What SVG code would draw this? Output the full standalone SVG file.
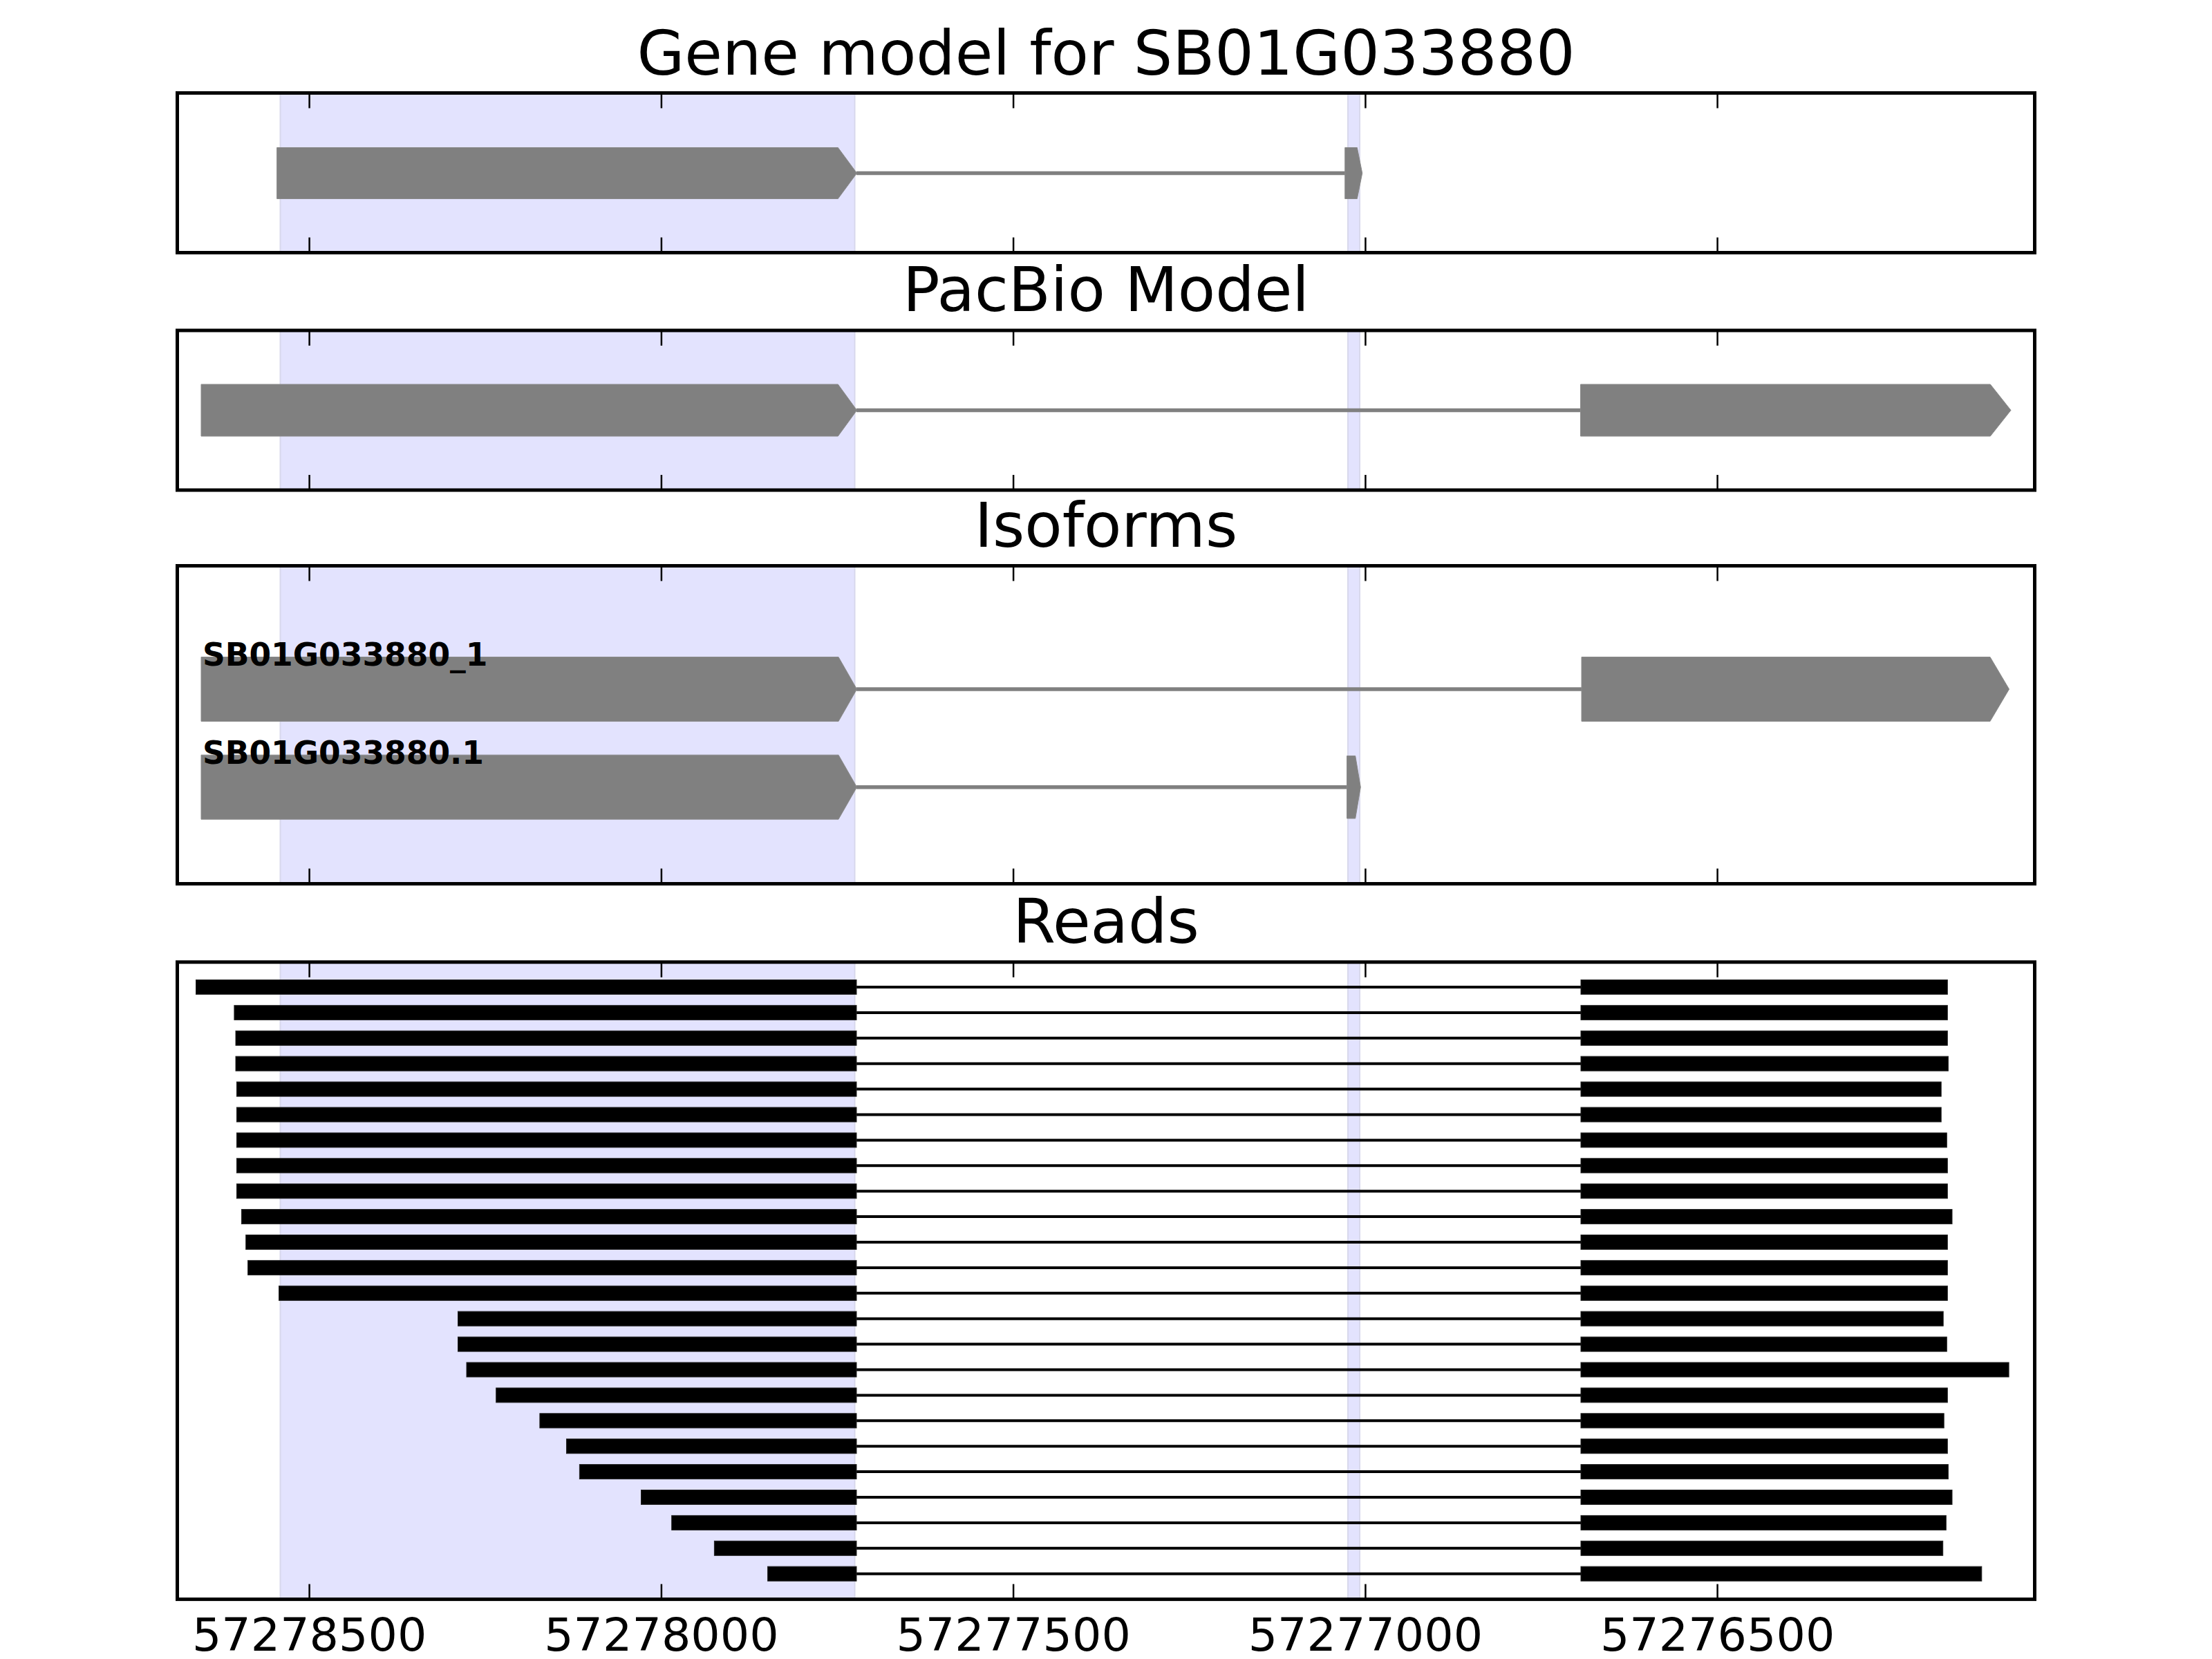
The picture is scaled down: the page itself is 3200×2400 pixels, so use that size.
<svg xmlns="http://www.w3.org/2000/svg" width="3200" height="2400" viewBox="0 0 3200 2400">
<style>
.title{font-family:"DejaVu Sans","Liberation Sans",sans-serif;font-size:88.9px;fill:#000;text-anchor:middle}
.tick{font-family:"DejaVu Sans","Liberation Sans",sans-serif;font-size:66.7px;fill:#000;text-anchor:middle}
.lab{font-family:"DejaVu Sans","Liberation Sans",sans-serif;font-size:45.5px;font-weight:bold;fill:#000}
.frame{fill:none;stroke:#000;stroke-width:5}
.band{fill:#E3E3FE;stroke:#D8D8EC;stroke-width:2}
.exon{fill:#808080;stroke:#8a8a8a;stroke-width:1}
.intron{stroke:#808080;stroke-width:5.5;fill:none}
.rexon{fill:#000;stroke:#222;stroke-width:1}
.rintron{stroke:#000;stroke-width:4;fill:none}
.tk{stroke:#000;stroke-width:2.5}
</style>
<rect x="0" y="0" width="3200" height="2400" fill="#fff"/>

<!-- Panel 1: Gene model -->
<g id="panel-gene-model">
  <text class="title" x="1600" y="108">Gene model for SB01G033880</text>
  <rect class="band" x="405.5" y="134.5" width="831" height="231"/>
  <rect class="band" x="1950" y="134.5" width="17" height="231"/>
  <g id="gm-connectors"><line class="intron" x1="1239" y1="250.5" x2="1946" y2="250.5"/></g>
  <g id="gm-exon1"><polygon class="exon" points="400.6,213.5 1212.3,213.5 1239.6,250.5 1212.3,287.5 400.6,287.5"/></g>
  <g id="gm-exon2"><polygon class="exon" points="1945.7,213.5 1963.3,213.5 1970.7,250.5 1963.3,287.5 1945.7,287.5"/></g>
  <g class="tk">
    <line x1="447.6" y1="134.5" x2="447.6" y2="156.5"/><line x1="956.9" y1="134.5" x2="956.9" y2="156.5"/><line x1="1466.1" y1="134.5" x2="1466.1" y2="156.5"/><line x1="1975.4" y1="134.5" x2="1975.4" y2="156.5"/><line x1="2484.6" y1="134.5" x2="2484.6" y2="156.5"/>
    <line x1="447.6" y1="365.5" x2="447.6" y2="343.5"/><line x1="956.9" y1="365.5" x2="956.9" y2="343.5"/><line x1="1466.1" y1="365.5" x2="1466.1" y2="343.5"/><line x1="1975.4" y1="365.5" x2="1975.4" y2="343.5"/><line x1="2484.6" y1="365.5" x2="2484.6" y2="343.5"/>
  </g>
  <rect class="frame" x="256.5" y="134.5" width="2687" height="231"/>
</g>

<!-- Panel 2: PacBio Model -->
<g id="panel-pacbio">
  <text class="title" x="1600" y="450">PacBio Model</text>
  <rect class="band" x="405.5" y="478" width="831" height="231"/>
  <rect class="band" x="1950" y="478" width="17" height="231"/>
  <g id="pb-connectors"><line class="intron" x1="1239" y1="593.5" x2="2287" y2="593.5"/></g>
  <g id="pb-exon1"><polygon class="exon" points="291,556 1212.3,556 1239.6,593.5 1212.3,631 291,631"/></g>
  <g id="pb-exon2"><polygon class="exon" points="2286.5,556 2879.3,556 2909,593.5 2879.3,631 2286.5,631"/></g>
  <g class="tk">
    <line x1="447.6" y1="478" x2="447.6" y2="500"/><line x1="956.9" y1="478" x2="956.9" y2="500"/><line x1="1466.1" y1="478" x2="1466.1" y2="500"/><line x1="1975.4" y1="478" x2="1975.4" y2="500"/><line x1="2484.6" y1="478" x2="2484.6" y2="500"/>
    <line x1="447.6" y1="709" x2="447.6" y2="687"/><line x1="956.9" y1="709" x2="956.9" y2="687"/><line x1="1466.1" y1="709" x2="1466.1" y2="687"/><line x1="1975.4" y1="709" x2="1975.4" y2="687"/><line x1="2484.6" y1="709" x2="2484.6" y2="687"/>
  </g>
  <rect class="frame" x="256.5" y="478" width="2687" height="231"/>
</g>

<!-- Panel 3: Isoforms -->
<g id="panel-isoforms">
  <text class="title" x="1600" y="790.7">Isoforms</text>
  <rect class="band" x="405.5" y="818.5" width="831" height="460"/>
  <rect class="band" x="1950" y="818.5" width="17" height="460"/>
  <g id="iso-connectors">
    <line class="intron" x1="1239" y1="997" x2="2288" y2="997"/>
    <line class="intron" x1="1239" y1="1138.7" x2="1948.5" y2="1138.7"/>
  </g>
  <g id="iso1">
    <polygon class="exon" points="291,950.5 1213,950.5 1239.6,997 1213,1043.5 291,1043.5"/>
    <polygon class="exon" points="2288,950.5 2879,950.5 2906.5,997 2879,1043.5 2288,1043.5"/>
    <text class="lab" x="293" y="963.3">SB01G033880_1</text>
  </g>
  <g id="iso2">
    <polygon class="exon" points="291,1092.2 1213,1092.2 1239.6,1138.7 1213,1185.2 291,1185.2"/>
    <polygon class="exon" points="1948.5,1093.5 1960.7,1093.5 1968.3,1138.7 1960.7,1184 1948.5,1184"/>
    <text class="lab" x="293" y="1105">SB01G033880.1</text>
  </g>
  <g class="tk">
    <line x1="447.6" y1="818.5" x2="447.6" y2="840.5"/><line x1="956.9" y1="818.5" x2="956.9" y2="840.5"/><line x1="1466.1" y1="818.5" x2="1466.1" y2="840.5"/><line x1="1975.4" y1="818.5" x2="1975.4" y2="840.5"/><line x1="2484.6" y1="818.5" x2="2484.6" y2="840.5"/>
    <line x1="447.6" y1="1278.5" x2="447.6" y2="1256.5"/><line x1="956.9" y1="1278.5" x2="956.9" y2="1256.5"/><line x1="1466.1" y1="1278.5" x2="1466.1" y2="1256.5"/><line x1="1975.4" y1="1278.5" x2="1975.4" y2="1256.5"/><line x1="2484.6" y1="1278.5" x2="2484.6" y2="1256.5"/>
  </g>
  <rect class="frame" x="256.5" y="818.5" width="2687" height="460"/>
</g>

<!-- Panel 4: Reads -->
<g id="panel-reads">
  <text class="title" x="1600" y="1363.5">Reads</text>
  <rect class="band" x="405.5" y="1391.8" width="831" height="921.8"/>
  <rect class="band" x="1950" y="1391.8" width="17" height="921.8"/>
  <g id="read-connectors">
    <line class="rintron" x1="1239" y1="1428" x2="2287" y2="1428"/>
    <line class="rintron" x1="1239" y1="1464.9" x2="2287" y2="1464.9"/>
    <line class="rintron" x1="1239" y1="1501.8" x2="2287" y2="1501.8"/>
    <line class="rintron" x1="1239" y1="1538.7" x2="2287" y2="1538.7"/>
    <line class="rintron" x1="1239" y1="1575.6" x2="2287" y2="1575.6"/>
    <line class="rintron" x1="1239" y1="1612.5" x2="2287" y2="1612.5"/>
    <line class="rintron" x1="1239" y1="1649.4" x2="2287" y2="1649.4"/>
    <line class="rintron" x1="1239" y1="1686.3" x2="2287" y2="1686.3"/>
    <line class="rintron" x1="1239" y1="1723.2" x2="2287" y2="1723.2"/>
    <line class="rintron" x1="1239" y1="1760.1" x2="2287" y2="1760.1"/>
    <line class="rintron" x1="1239" y1="1797" x2="2287" y2="1797"/>
    <line class="rintron" x1="1239" y1="1833.9" x2="2287" y2="1833.9"/>
    <line class="rintron" x1="1239" y1="1870.8" x2="2287" y2="1870.8"/>
    <line class="rintron" x1="1239" y1="1907.7" x2="2287" y2="1907.7"/>
    <line class="rintron" x1="1239" y1="1944.6" x2="2287" y2="1944.6"/>
    <line class="rintron" x1="1239" y1="1981.5" x2="2287" y2="1981.5"/>
    <line class="rintron" x1="1239" y1="2018.4" x2="2287" y2="2018.4"/>
    <line class="rintron" x1="1239" y1="2055.3" x2="2287" y2="2055.3"/>
    <line class="rintron" x1="1239" y1="2092.2" x2="2287" y2="2092.2"/>
    <line class="rintron" x1="1239" y1="2129.1" x2="2287" y2="2129.1"/>
    <line class="rintron" x1="1239" y1="2166" x2="2287" y2="2166"/>
    <line class="rintron" x1="1239" y1="2202.9" x2="2287" y2="2202.9"/>
    <line class="rintron" x1="1239" y1="2239.8" x2="2287" y2="2239.8"/>
    <line class="rintron" x1="1239" y1="2276.7" x2="2287" y2="2276.7"/>
  </g>
  <g id="reads">
    <g id="read-01"><rect class="rexon" x="283.5" y="1417.5" width="955.5" height="21"/><rect class="rexon" x="2287" y="1417.5" width="530.3" height="21"/></g>
    <g id="read-02"><rect class="rexon" x="338.9" y="1454.4" width="900.1" height="21"/><rect class="rexon" x="2287" y="1454.4" width="530.3" height="21"/></g>
    <g id="read-03"><rect class="rexon" x="341" y="1491.3" width="898" height="21"/><rect class="rexon" x="2287" y="1491.3" width="530.3" height="21"/></g>
    <g id="read-04"><rect class="rexon" x="341" y="1528.2" width="898" height="21"/><rect class="rexon" x="2287" y="1528.2" width="531.4" height="21"/></g>
    <g id="read-05"><rect class="rexon" x="342.4" y="1565.1" width="896.6" height="21"/><rect class="rexon" x="2287" y="1565.1" width="521.2" height="21"/></g>
    <g id="read-06"><rect class="rexon" x="342.4" y="1602" width="896.6" height="21"/><rect class="rexon" x="2287" y="1602" width="521.2" height="21"/></g>
    <g id="read-07"><rect class="rexon" x="342.4" y="1638.9" width="896.6" height="21"/><rect class="rexon" x="2287" y="1638.9" width="529.3" height="21"/></g>
    <g id="read-08"><rect class="rexon" x="342.4" y="1675.8" width="896.6" height="21"/><rect class="rexon" x="2287" y="1675.8" width="530.3" height="21"/></g>
    <g id="read-09"><rect class="rexon" x="342.4" y="1712.7" width="896.6" height="21"/><rect class="rexon" x="2287" y="1712.7" width="530.3" height="21"/></g>
    <g id="read-10"><rect class="rexon" x="349.4" y="1749.6" width="889.6" height="21"/><rect class="rexon" x="2287" y="1749.6" width="537" height="21"/></g>
    <g id="read-11"><rect class="rexon" x="355.7" y="1786.5" width="883.3" height="21"/><rect class="rexon" x="2287" y="1786.5" width="530.3" height="21"/></g>
    <g id="read-12"><rect class="rexon" x="358.6" y="1823.4" width="880.4" height="21"/><rect class="rexon" x="2287" y="1823.4" width="530.3" height="21"/></g>
    <g id="read-13"><rect class="rexon" x="403.5" y="1860.3" width="835.5" height="21"/><rect class="rexon" x="2287" y="1860.3" width="530.3" height="21"/></g>
    <g id="read-14"><rect class="rexon" x="662.5" y="1897.2" width="576.5" height="21"/><rect class="rexon" x="2287" y="1897.2" width="524.2" height="21"/></g>
    <g id="read-15"><rect class="rexon" x="662.5" y="1934.1" width="576.5" height="21"/><rect class="rexon" x="2287" y="1934.1" width="529.3" height="21"/></g>
    <g id="read-16"><rect class="rexon" x="675" y="1971" width="564" height="21"/><rect class="rexon" x="2287" y="1971" width="619.1" height="21"/></g>
    <g id="read-17"><rect class="rexon" x="717.7" y="2007.9" width="521.3" height="21"/><rect class="rexon" x="2287" y="2007.9" width="530.3" height="21"/></g>
    <g id="read-18"><rect class="rexon" x="780.9" y="2044.8" width="458.1" height="21"/><rect class="rexon" x="2287" y="2044.8" width="525.2" height="21"/></g>
    <g id="read-19"><rect class="rexon" x="819.5" y="2081.7" width="419.5" height="21"/><rect class="rexon" x="2287" y="2081.7" width="530.3" height="21"/></g>
    <g id="read-20"><rect class="rexon" x="838.4" y="2118.6" width="400.6" height="21"/><rect class="rexon" x="2287" y="2118.6" width="531.4" height="21"/></g>
    <g id="read-21"><rect class="rexon" x="927.5" y="2155.5" width="311.5" height="21"/><rect class="rexon" x="2287" y="2155.5" width="537" height="21"/></g>
    <g id="read-22"><rect class="rexon" x="971.7" y="2192.4" width="267.3" height="21"/><rect class="rexon" x="2287" y="2192.4" width="528.3" height="21"/></g>
    <g id="read-23"><rect class="rexon" x="1033.4" y="2229.3" width="205.6" height="21"/><rect class="rexon" x="2287" y="2229.3" width="523.7" height="21"/></g>
    <g id="read-24"><rect class="rexon" x="1110.6" y="2266.2" width="128.4" height="21"/><rect class="rexon" x="2287" y="2266.2" width="579.8" height="21"/></g>
  </g>
  <g class="tk">
    <line x1="447.6" y1="1391.8" x2="447.6" y2="1413.8"/><line x1="956.9" y1="1391.8" x2="956.9" y2="1413.8"/><line x1="1466.1" y1="1391.8" x2="1466.1" y2="1413.8"/><line x1="1975.4" y1="1391.8" x2="1975.4" y2="1413.8"/><line x1="2484.6" y1="1391.8" x2="2484.6" y2="1413.8"/>
    <line x1="447.6" y1="2313.6" x2="447.6" y2="2291.6"/><line x1="956.9" y1="2313.6" x2="956.9" y2="2291.6"/><line x1="1466.1" y1="2313.6" x2="1466.1" y2="2291.6"/><line x1="1975.4" y1="2313.6" x2="1975.4" y2="2291.6"/><line x1="2484.6" y1="2313.6" x2="2484.6" y2="2291.6"/>
  </g>
  <rect class="frame" x="256.5" y="1391.8" width="2687" height="921.8"/>
  <g id="x-tick-labels">
    <text class="tick" x="447.6" y="2388">57278500</text>
    <text class="tick" x="956.9" y="2388">57278000</text>
    <text class="tick" x="1466.1" y="2388">57277500</text>
    <text class="tick" x="1975.4" y="2388">57277000</text>
    <text class="tick" x="2484.6" y="2388">57276500</text>
  </g>
</g>
</svg>
